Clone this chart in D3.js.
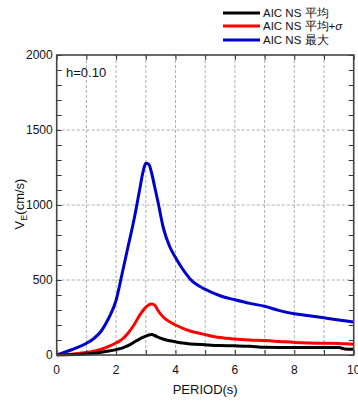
<!DOCTYPE html>
<html><head><meta charset="utf-8">
<script src="https://cdn.jsdelivr.net/npm/d3@7"></script>
<style>
body{margin:0;background:#fff;}
text{font-family:"Liberation Sans",Arial,sans-serif;}
</style></head>
<body><svg id="c" width="358" height="403"></svg>
<script>
const periods = [0,0.5,1,1.25,1.5,1.75,2,2.2,2.4,2.6,2.8,2.9,3.0,3.1,3.2,3.3,3.4,3.6,3.8,4.0,4.25,4.5,5,5.5,6,6.5,7,7.5,8,8.5,9,9.5,9.7,10];
const meanVals = [0,1,6,11,18,26,36,46,62,85,108,118,126,133,136,130,120,105,95,88,80,74,68,63,61,58,51,50,50,50,50,50,40,38];
const meanSigmaVals = [0,5,16,25,38,57,80,104,145,200,267,295,318,335,340,332,300,250,222,200,178,160,136,116,106,100,96,90,84,80,78,77,75,72];
const maxVals = [0,35,78,110,160,245,365,540,720,900,1110,1215,1278,1272,1210,1120,1030,840,725,650,570,505,438,395,368,344,325,296,275,262,248,233,228,220];
const seriesNames = ["AIC NS 平均","AIC NS 平均+σ","AIC NS 最大"];
const seriesColors = ["#000000","#ff0000","#0000cc"];
const xTickLabels = [0,2,4,6,8,10];
const yTickLabels = [0,500,1000,1500,2000];

const svg = d3.select("#c");
const L=56.7,R=353.7,T=55,B=355;
const x = d3.scaleLinear().domain([0,10]).range([L,R]);
const y = d3.scaleLinear().domain([0,2000]).range([B,T]);

// grid
const g = svg.append("g");
g.selectAll(".gx").data(d3.range(1,10)).enter().append("line")
 .attr("x1",d=>x(d)).attr("x2",d=>x(d)).attr("y1",T).attr("y2",B)
 .attr("stroke","#999").attr("stroke-width",0.8).attr("stroke-dasharray","3,2");
g.selectAll(".gy").data([500,1000,1500]).enter().append("line")
 .attr("x1",L).attr("x2",R).attr("y1",d=>y(d)).attr("y2",d=>y(d))
 .attr("stroke","#999").attr("stroke-width",0.8).attr("stroke-dasharray","3,2");

// series
const series=[meanVals,meanSigmaVals,maxVals];
const line = d3.line().curve(d3.curveMonotoneX).x((d,i)=>x(periods[i])).y(d=>y(d));
svg.append("clipPath").attr("id","cp").append("rect").attr("x",L).attr("y",T).attr("width",R-L).attr("height",B-T+1.5);
[maxVals,meanSigmaVals,meanVals].forEach((s)=>{
  const idx = series.indexOf(s);
  svg.append("path").datum(s).attr("d",line).attr("fill","none")
   .attr("stroke",seriesColors[idx]).attr("stroke-width",3).attr("stroke-linejoin","round").attr("clip-path","url(#cp)");
});

// ticks inward, all sides
const axBottom = d3.axisBottom(x).tickValues(d3.range(0,11)).tickSize(-5).tickFormat("");
const axTop = d3.axisTop(x).tickValues(d3.range(0,11)).tickSize(-5).tickFormat("");
const axLeft = d3.axisLeft(y).tickValues(d3.range(0,2001,100)).tickSize(-5).tickFormat("");
const axRight = d3.axisRight(y).tickValues(d3.range(0,2001,100)).tickSize(-5).tickFormat("");
[[axBottom,`translate(0,${B})`],[axTop,`translate(0,${T})`],[axLeft,`translate(${L},0)`],[axRight,`translate(${R},0)`]].forEach(([a,t])=>{
  const ag=svg.append("g").attr("transform",t).call(a);
  ag.select(".domain").remove();
  ag.selectAll("line").attr("stroke","#333").attr("stroke-width",1);
});
svg.append("rect").attr("x",L).attr("y",T).attr("width",R-L).attr("height",B-T)
 .attr("fill","none").attr("stroke","#444").attr("stroke-width",1.6);

// tick labels
svg.selectAll(".xl").data(xTickLabels).enter().append("text")
 .attr("x",d=>x(d)).attr("y",B+19).attr("text-anchor","middle").attr("font-size",12).attr("fill","#111").text(d=>d);
svg.selectAll(".yl").data(yTickLabels).enter().append("text")
 .attr("x",L-4).attr("y",d=>y(d)+4).attr("text-anchor","end").attr("font-size",12).attr("fill","#111").text(d=>d);

// axis titles
svg.append("text").attr("x",(L+R)/2).attr("y",394).attr("text-anchor","middle").attr("font-size",13).attr("fill","#111").text("PERIOD(s)");
const yt = svg.append("text").attr("transform","translate(24,204) rotate(-90)").attr("text-anchor","middle").attr("font-size",13).attr("fill","#111");
yt.append("tspan").text("V");
yt.append("tspan").attr("font-size",9).attr("dy",3).text("E");
yt.append("tspan").attr("dy",-3).text("(cm/s)");

svg.append("text").attr("x",66).attr("y",77).attr("font-size",13).attr("fill","#111").text("h=0.10");

// legend
const ly=[13,26,40];
seriesNames.forEach((n,i)=>{
  svg.append("line").attr("x1",223).attr("x2",260).attr("y1",ly[i]).attr("y2",ly[i]).attr("stroke",seriesColors[i]).attr("stroke-width",3);
  const t=svg.append("text").attr("x",263).attr("y",ly[i]+4).attr("font-size",11.5).attr("fill","#111");
  if(n.endsWith("σ")){
    t.append("tspan").text(n.slice(0,-1));
    t.append("tspan").attr("font-style","italic").text("σ");
  } else t.text(n);
});
</script></body></html>
